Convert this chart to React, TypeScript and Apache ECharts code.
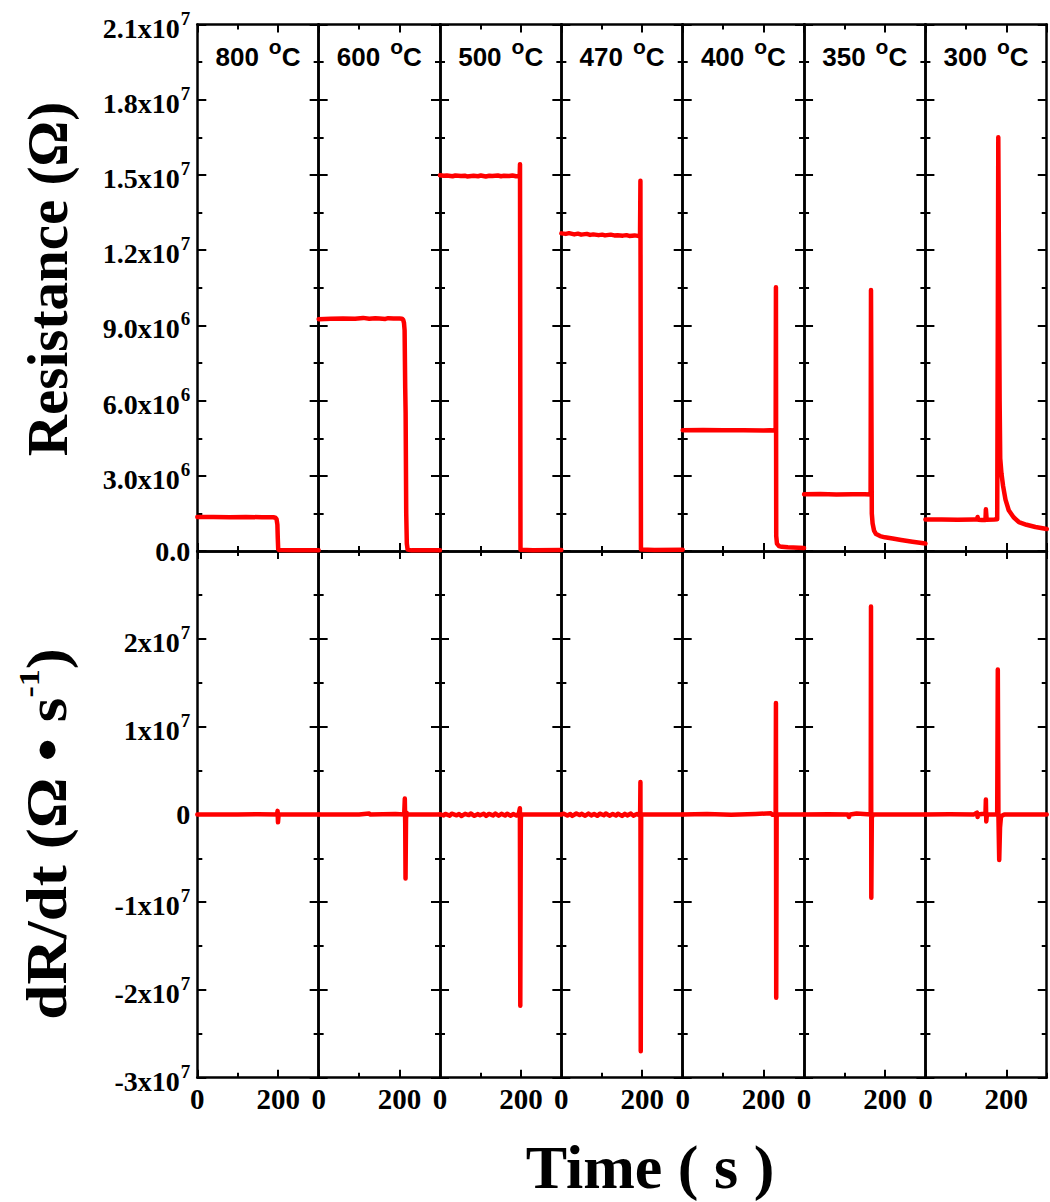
import React, { useEffect, useRef } from "react";
import * as echarts from "echarts";

// ---------- data ----------
const temperatureLabels = ["800", "600", "500", "470", "400", "350", "300"];
const timeTickLabels = [0, 200];
const resistanceTickLabels = ["0.0", "3.0x10^6", "6.0x10^6", "9.0x10^6", "1.2x10^7", "1.5x10^7", "1.8x10^7", "2.1x10^7"];
const derivativeTickLabels = ["-3x10^7", "-2x10^7", "-1x10^7", "0", "1x10^7", "2x10^7", ""];

// Resistance (Ohm) vs time (s)
const r800 = [[0, 1.36e6], [40, 1.36e6], [80, 1.35e6], [120, 1.36e6], [160, 1.35e6], [188, 1.35e6], [193, 1.33e6], [196, 1.27e6], [198, 1.05e6], [199, 0.5e6], [200, 0.08e6], [202, 0.04e6], [240, 0.03e6], [300, 0.03e6]];
const r600 = [[0, 9.25e6], [30, 9.27e6], [60, 9.28e6], [90, 9.27e6], [110, 9.3e6], [125, 9.27e6], [140, 9.29e6], [150, 9.28e6], [165, 9.26e6], [172, 9.29e6], [185, 9.28e6], [200, 9.28e6], [206, 9.27e6], [209, 9.22e6], [211, 9.1e6], [212.5, 8.8e6], [214, 6.5e6], [215, 5.5e6], [216.5, 1.5e6], [218, 0.3e6], [220, 0.06e6], [230, 0.03e6], [300, 0.03e6]];
const r500 = [[0, 14.99e6], [9, 14.97e6], [17, 14.98e6], [31, 14.95e6], [38, 14.98e6], [52, 14.96e6], [61, 14.97e6], [67, 14.94e6], [83, 14.97e6], [94, 14.95e6], [101, 14.98e6], [113, 14.94e6], [122, 14.97e6], [129, 14.96e6], [143, 14.98e6], [151, 14.95e6], [158, 14.97e6], [171, 14.96e6], [179, 14.98e6], [188, 14.95e6], [197, 14.97e6], [197.8, 15.43e6], [199, 0.05e6], [230, 0.03e6], [300, 0.04e6]];
const r470 = [[0, 12.67e6], [11, 12.65e6], [19, 12.68e6], [32, 12.63e6], [41, 12.66e6], [49, 12.62e6], [63, 12.65e6], [71, 12.61e6], [79, 12.63e6], [92, 12.6e6], [101, 12.62e6], [108, 12.59e6], [122, 12.62e6], [131, 12.59e6], [139, 12.6e6], [152, 12.58e6], [161, 12.6e6], [168, 12.57e6], [181, 12.59e6], [189, 12.57e6], [194.5, 12.59e6], [195.5, 14.77e6], [196.8, 0.06e6], [230, 0.04e6], [300, 0.05e6]];
const r400 = [[0, 4.82e6], [50, 4.83e6], [100, 4.82e6], [150, 4.82e6], [200, 4.81e6], [215, 4.82e6], [229.8, 4.81e6], [230.5, 10.52e6], [231.2, 0.6e6], [233, 0.3e6], [238, 0.2e6], [245, 0.17e6], [260, 0.15e6], [300, 0.12e6]];
const r350 = [[0, 2.27e6], [40, 2.28e6], [80, 2.26e6], [120, 2.27e6], [150, 2.27e6], [164.5, 2.26e6], [165.5, 10.41e6], [167.5, 1.5e6], [169.5, 1.1e6], [173, 0.82e6], [178, 0.68e6], [188, 0.6e6], [200, 0.55e6], [219, 0.5e6], [240, 0.44e6], [268, 0.37e6], [300, 0.3e6]];
const r300 = [[0, 1.26e6], [40, 1.26e6], [80, 1.25e6], [120, 1.26e6], [127.5, 1.26e6], [129, 1.36e6], [130.5, 1.25e6], [140, 1.24e6], [148.5, 1.24e6], [149.5, 1.67e6], [150.5, 1.67e6], [151.5, 1.25e6], [170, 1.26e6], [177.5, 1.27e6], [179, 9e6], [180.2, 16.5e6], [182, 11e6], [183.5, 6e6], [185, 3.7e6], [188, 3.1e6], [192, 2.6e6], [198, 2.05e6], [206, 1.63e6], [218, 1.35e6], [231, 1.16e6], [250, 1.05e6], [272, 0.96e6], [300, 0.88e6]];

// dR/dt (Ohm/s) vs time (s)
const d800 = [[0, 0], [100, 0], [150, 0.02e6], [197, 0], [198.5, 0.4e6], [199.5, -0.9e6], [201, 0], [300, 0]];
const d600 = [[0, 0], [100, 0], [125, 0.1e6], [127, 0], [190, 0.05e6], [211.5, 0], [213, 1.8e6], [214, -1e6], [214.8, -7.3e6], [216, -0.5e6], [217.5, 0.2e6], [219, 0], [300, 0]];
const d500 = [[0, 0], [9, -0.12e6], [13, 0.05e6], [24, -0.15e6], [29, 0.08e6], [41, -0.1e6], [47, 0.04e6], [53, -0.18e6], [62, 0.06e6], [71, -0.08e6], [76, 0.1e6], [85, -0.16e6], [93, 0.03e6], [99, -0.1e6], [108, 0.08e6], [114, -0.17e6], [121, 0.05e6], [131, -0.12e6], [137, 0.1e6], [145, -0.14e6], [152, 0.06e6], [161, -0.13e6], [166, 0.08e6], [175, -0.15e6], [181, 0.05e6], [189, -0.12e6], [195, 0.1e6], [197.5, 0.7e6], [198.5, -21.8e6], [199.8, -0.5e6], [201, 0], [300, 0]];
const d470 = [[0, 0], [6, 0.08e6], [15, -0.13e6], [22, 0.05e6], [27, -0.17e6], [37, 0.1e6], [45, -0.08e6], [50, 0.06e6], [59, -0.15e6], [67, 0.09e6], [74, -0.11e6], [81, 0.04e6], [89, -0.16e6], [95, 0.08e6], [105, -0.1e6], [110, 0.1e6], [119, -0.14e6], [127, 0.05e6], [135, -0.12e6], [140, 0.08e6], [150, -0.17e6], [157, 0.06e6], [163, -0.11e6], [172, 0.09e6], [178, -0.14e6], [187, 0.05e6], [192, -0.08e6], [194.8, 0], [195.5, 3.7e6], [196.3, -27.0e6], [197.3, 0], [300, 0]];
const d400 = [[0, 0], [60, 0.05e6], [120, -0.03e6], [180, 0.05e6], [218, 0.12e6], [222, -0.05e6], [229.8, 0.1e6], [230.5, 12.7e6], [231.2, -20.9e6], [232.2, -0.3e6], [234, 0], [300, 0]];
const d350 = [[0, 0], [60, 0.03e6], [108, 0], [111, -0.3e6], [114, 0], [130, 0.1e6], [164.8, 0], [165.5, 23.7e6], [166.3, -9.5e6], [167.5, -0.4e6], [170, 0], [300, 0]];
const d300 = [[0, 0], [60, 0.03e6], [120, 0], [127.5, 0.2e6], [129, -0.3e6], [131, 0], [148.5, 0.1e6], [149.5, 1.7e6], [150.5, -0.8e6], [152, 0], [177.5, 0], [179, 16.5e6], [180.5, 0], [182.5, -5.2e6], [184.5, -1.5e6], [187, -0.2e6], [195, 0], [300, 0]];

const resistanceSeries = [r800, r600, r500, r470, r400, r350, r300];
const derivativeSeries = [d800, d600, d500, d470, d400, d350, d300];

// ---------- layout / style ----------
const SERIF = '"Liberation Serif", "Times New Roman", serif';
const SANS = '"Liberation Sans", Arial, sans-serif';
const RED = "#ff0000";
const PLOT_LEFT = 197.3;
const PANEL_W = 121.35;
const PLOT_TOP = 24.5;
const ROW_H = 526.6;

const resistanceRange = { min: 0, max: 2.1e7, interval: 3e6 };
const derivativeRange = { min: -3e7, max: 3e7, interval: 1e7 };

const axisLineStyle = { color: "#000", width: 2.5 };
const tickLineStyle = { color: "#000", width: 2 };

function supRich(label: string) {
  const parts = label.split("^");
  if (!parts[0]) return "";
  return parts.length > 1 ? `{b|${parts[0]}}{s|${parts[1]}}` : `{c|${parts[0]}}`;
}

const yLabelRich = {
  b: { fontFamily: SERIF, fontWeight: "bold", fontSize: 28, color: "#000", padding: [7, 0, 0, 0] },
  s: { fontFamily: SERIF, fontWeight: "bold", fontSize: 19, color: "#000", padding: [0, 0, 13, 1] },
  c: { fontFamily: SERIF, fontWeight: "bold", fontSize: 28, color: "#000" },
};

function makeXAxes(gridIndex: number, showLabels: boolean) {
  const base = {
    type: "value",
    gridIndex,
    min: 0,
    max: 300,
    splitLine: { show: false },
    minorTick: { show: false },
  };
  const labels = showLabels
    ? {
        show: true,
        margin: 7,
        fontFamily: SERIF,
        fontWeight: "bold",
        fontSize: 29,
        color: "#000",
        showMaxLabel: false,
        formatter: (v: number) => (timeTickLabels.includes(v) ? String(v) : ""),
      }
    : { show: false };
  return [
    { ...base, position: "bottom", interval: 200, axisLine: { show: true, onZero: false, lineStyle: axisLineStyle }, axisTick: { show: true, inside: true, length: 8, lineStyle: tickLineStyle }, axisLabel: labels },
    { ...base, position: "bottom", interval: 100, axisLine: { show: false, onZero: false }, axisTick: { show: true, inside: true, length: 5, lineStyle: tickLineStyle }, axisLabel: { show: false } },
    { ...base, position: "top", interval: 200, axisLine: { show: true, onZero: false, lineStyle: axisLineStyle }, axisTick: { show: true, inside: true, length: 8, lineStyle: tickLineStyle }, axisLabel: { show: false } },
    { ...base, position: "top", interval: 100, axisLine: { show: false, onZero: false }, axisTick: { show: true, inside: true, length: 5, lineStyle: tickLineStyle }, axisLabel: { show: false } },
  ];
}

function makeYAxes(gridIndex: number, range: { min: number; max: number; interval: number }, labels: string[], showLabels: boolean) {
  const base = {
    type: "value",
    gridIndex,
    min: range.min,
    max: range.max,
    interval: range.interval,
    splitLine: { show: false },
    axisLine: { show: true, onZero: false, lineStyle: axisLineStyle },
    axisTick: { show: true, inside: true, length: 9, lineStyle: tickLineStyle },
    minorTick: { show: true, splitNumber: 2, length: 5, lineStyle: tickLineStyle },
  };
  return [
    {
      ...base,
      position: "left",
      axisLabel: showLabels
        ? {
            show: true,
            margin: 7,
            rich: yLabelRich,
            formatter: (v: number) => supRich(labels[Math.round((v - range.min) / range.interval)] || ""),
          }
        : { show: false },
    },
    { ...base, position: "right", axisLabel: { show: false } },
  ];
}

function buildOption() {
  const grid: any[] = [];
  const xAxis: any[] = [];
  const yAxis: any[] = [];
  const series: any[] = [];
  for (let row = 0; row < 2; row++) {
    for (let c = 0; c < temperatureLabels.length; c++) {
      const g = row * temperatureLabels.length + c;
      grid.push({ left: PLOT_LEFT + c * PANEL_W, top: PLOT_TOP + row * ROW_H, width: PANEL_W, height: ROW_H, containLabel: false });
      xAxis.push(...makeXAxes(g, row === 1));
      if (row === 0) yAxis.push(...makeYAxes(g, resistanceRange, resistanceTickLabels, c === 0));
      else yAxis.push(...makeYAxes(g, derivativeRange, derivativeTickLabels, c === 0));
      const data = row === 0 ? resistanceSeries[c] : derivativeSeries[c];
      series.push({
        type: "line",
        xAxisIndex: 4 * g,
        yAxisIndex: 2 * g,
        data,
        symbol: "none",
        showSymbol: false,
        silent: true,
        z: 3,
        lineStyle: { color: RED, width: 4.5, join: "round", cap: "round" },
      });
    }
  }

  const titleRich = {
    t: { fontFamily: SANS, fontWeight: "bold", fontSize: 26, fill: "#000" },
    g: { fontFamily: SANS, fontWeight: "bold", fontSize: 26, fill: "#000", width: 10 },
    s: { fontFamily: SANS, fontWeight: "bold", fontSize: 21, fill: "#000", padding: [0, 0, 21, 0] },
  };

  const graphic: any[] = temperatureLabels.map((t, c) => ({
    type: "text",
    x: PLOT_LEFT + PANEL_W * (c + 0.5),
    y: 57,
    silent: true,
    style: { text: `{t|${t}}{g| }{s|o}{t|C}`, rich: titleRich, align: "center", verticalAlign: "middle" },
  }));

  graphic.push({
    type: "text",
    x: 47,
    y: 279,
    rotation: Math.PI / 2,
    silent: true,
    style: { text: "Resistance (Ω)", fontFamily: SERIF, fontWeight: "bold", fontSize: 57, fill: "#000", align: "center", verticalAlign: "middle" },
  });
  graphic.push({
    type: "text",
    x: 47,
    y: 834,
    rotation: Math.PI / 2,
    scaleX: 1.13,
    silent: true,
    style: {
      text: "{a|dR/dt (Ω }{d|•}{a| s}{b|-1}{a|)}",
      rich: {
        a: { fontFamily: SERIF, fontWeight: "bold", fontSize: 56, fill: "#000" },
        d: { fontFamily: SERIF, fontWeight: "bold", fontSize: 60, fill: "#000" },
        b: { fontFamily: SERIF, fontWeight: "bold", fontSize: 30, fill: "#000", padding: [0, 0, 36, 0] },
      },
      align: "center",
      verticalAlign: "middle",
    },
  });
  graphic.push({
    type: "text",
    x: 650,
    y: 1167,
    silent: true,
    style: { text: "Time ( s )", fontFamily: SERIF, fontWeight: "bold", fontSize: 62, fill: "#000", align: "center", verticalAlign: "middle" },
  });

  return {
    animation: false,
    backgroundColor: "#fff",
    grid,
    xAxis,
    yAxis,
    series,
    graphic,
  };
}

export default function App() {
  const ref = useRef<HTMLDivElement>(null);
  useEffect(() => {
    if (!ref.current) return;
    const chart = echarts.init(ref.current, null, { renderer: "svg" });
    chart.setOption(buildOption() as any);
    return () => chart.dispose();
  }, []);
  return (
    <div
      ref={ref}
      style={{ position: "fixed", left: 0, top: 0, width: 1050, height: 1202, background: "#fff" }}
    />
  );
}
